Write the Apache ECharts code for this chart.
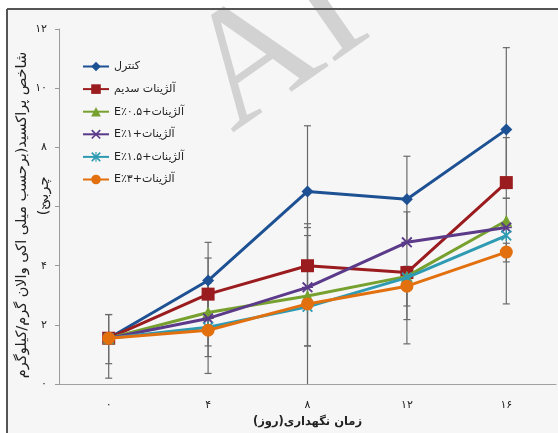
<!DOCTYPE html>
<html>
<head>
<meta charset="utf-8">
<script src="https://cdn.jsdelivr.net/npm/echarts@6/dist/echarts.min.js"></script>
<style>
html,body{margin:0;padding:0;background:#fff;}
#chart{width:558px;height:433px;}
</style>
</head>
<body>
<div id="chart"></div>
<script>
// Storage days (category axis) and value-axis tick labels, in Persian digits
const days = ['۰', '۴', '۸', '۱۲', '۱۶'];
const yTickLabels = ['۰', '۲', '۴', '۶', '۸', '۱۰', '۱۲'];

// Treatment names
const seriesNames = [
  'کنترل',
  'آلژینات سدیم',
  'آلژینات+۰.۵٪E',
  'آلژینات+۱٪E',
  'آلژینات+۱.۵٪E',
  'آلژینات+۳٪E'
];

// Peroxide value per storage day
const controlValues = [1.55, 3.50, 6.51, 6.25, 8.60];
const alginateValues = [1.55, 3.04, 4.00, 3.77, 6.81];
const e05Values = [1.55, 2.42, 2.98, 3.64, 5.52];
const e1Values = [1.55, 2.22, 3.27, 4.79, 5.29];
const e15Values = [1.55, 1.92, 2.61, 3.60, 5.02];
const e3Values = [1.55, 1.82, 2.71, 3.31, 4.46];

// Error bars per day: [minus, plus]
const controlErr = [[0.86, 0.80], [1.30, 1.29], [2.50, 2.22], [1.45, 1.45], [2.32, 2.77]];
const alginateErr = [[1.35, 0.80], [1.20, 1.22], [1.29, 1.42], [0, 0], [0.20, 1.52]];
const e05Err = [[0, 0], [1.13, 1.10], [1.69, 2.04], [1.46, 0.30], [1.39, 0.76]];
const e1Err = [[0, 0], [1.29, 1.20], [1.98, 2.02], [1.03, 1.03], [0, 0]];
const e15Err = [[0, 0], [0, 0], [2.70, 0.30], [2.24, 0.30], [0, 0]];
const e3Err = [[0, 0], [1.46, 1.40], [0, 0], [0.67, 0.67], [1.75, 0.30]];

const colors = ['#1d5193', '#9b1c1f', '#76a12f', '#5b3a8a', '#2f9bb3', '#e2700f'];

// Filled path shapes for the cross / asterisk markers
const crossPath = 'path://M0,1.2 L1.2,0 L10,8.8 L8.8,10 Z M8.8,0 L10,1.2 L1.2,10 L0,8.8 Z M0,4.4 L10,4.4 L10,5.6 L0,5.6 Z';
const starPath = 'path://M0,1.2 L1.2,0 L10,8.8 L8.8,10 Z M8.8,0 L10,1.2 L1.2,10 L0,8.8 Z M4.4,0 L5.6,0 L5.6,10 L4.4,10 Z';

const valueSets = [controlValues, alginateValues, e05Values, e1Values, e15Values, e3Values];
const errSets = [controlErr, alginateErr, e05Err, e1Err, e15Err, e3Err];
const symbols = ['diamond', 'rect', 'triangle', crossPath, starPath, 'circle'];
const symbolSizes = [12, 13, 12, 11, 11, 13];

const FONT = 'DejaVu Sans';
const rtl = s => '\u202B' + s + '\u202C';

function errorBarItem(params, api) {
  const minus = api.value(2), plus = api.value(3);
  if (minus === 0 && plus === 0) return null;
  const i = api.value(0), v = api.value(1);
  const top = api.coord([i, v + plus]);
  const bot = api.coord([i, v - minus]);
  const cap = 3.5;
  const st = { stroke: '#6a6a6a', lineWidth: 1.2 };
  const kids = [{ type: 'line', shape: { x1: top[0], y1: top[1], x2: bot[0], y2: bot[1] }, style: st }];
  if (plus > 0) kids.push({ type: 'line', shape: { x1: top[0] - cap, y1: top[1], x2: top[0] + cap, y2: top[1] }, style: st });
  if (minus > 0) kids.push({ type: 'line', shape: { x1: bot[0] - cap, y1: bot[1], x2: bot[0] + cap, y2: bot[1] }, style: st });
  return { type: 'group', children: kids };
}

const series = [];
valueSets.forEach((vals, k) => {
  series.push({
    type: 'custom',
    name: 'err' + k,
    renderItem: errorBarItem,
    clip: true,
    z: 1,
    encode: { x: 0, y: 1 },
    data: vals.map((v, i) => [i, v, errSets[k][i][0], errSets[k][i][1]]),
    silent: true
  });
});
valueSets.forEach((vals, k) => {
  series.push({
    type: 'line',
    name: rtl(seriesNames[k]),
    data: vals,
    symbol: symbols[k],
    symbolSize: symbolSizes[k],
    symbolKeepAspect: true,
    lineStyle: { width: 3, color: colors[k] },
    itemStyle: { color: colors[k] },
    z: 3 + k * 0.01,
    animation: false
  });
});

const chart = echarts.init(document.getElementById('chart'), null, { renderer: 'canvas' });
chart.setOption({
  animation: false,
  backgroundColor: '#ffffff',
  color: colors,
  textStyle: { fontFamily: FONT },
  grid: { left: 59, right: 2, top: 29, bottom: 41 },
  legend: {
    data: seriesNames.map(rtl),
    orient: 'vertical',
    left: 77,
    top: 56,
    itemWidth: 26,
    itemHeight: 12,
    itemGap: 11.6,
    textStyle: { fontFamily: FONT, fontSize: 11, color: '#222' }
  },
  xAxis: {
    type: 'category',
    data: days,
    boundaryGap: true,
    axisLine: { lineStyle: { color: '#a0a0a0', width: 1 } },
    axisTick: { show: false },
    axisLabel: { color: '#222', fontFamily: FONT, fontSize: 11, margin: 16 },
    name: rtl('زمان نگهداری(روز)'),
    nameLocation: 'middle',
    nameGap: 30,
    nameTextStyle: { color: '#222', fontFamily: FONT, fontSize: 11.5, fontWeight: 'bold' }
  },
  yAxis: {
    type: 'value',
    min: 0,
    max: 12,
    interval: 2,
    splitLine: { show: false },
    axisLine: { show: true, lineStyle: { color: '#9a9a9a', width: 1 } },
    axisTick: { show: true, length: 4, lineStyle: { color: '#9a9a9a' } },
    axisLabel: {
      color: '#222', fontFamily: FONT, fontSize: 11, margin: 12,
      formatter: v => yTickLabels[Math.round(v / 2)]
    }
  },
  graphic: [
    { type: 'rect', z: -10, silent: true, shape: { x: 7, y: 9, width: 551, height: 424 }, style: { fill: '#f6f6f6' } },
    {
      type: 'text', z: -9, silent: true, x: 160, y: 30, rotation: 0.61,
      style: { text: 'AI', font: '165px "Liberation Serif"', fill: '#d2d2d2', align: 'left', verticalAlign: 'top' }
    },
    { type: 'line', z: -8, silent: true, shape: { x1: 7, y1: 9, x2: 558, y2: 9 }, style: { stroke: '#555', lineWidth: 2 } },
    { type: 'line', z: -8, silent: true, shape: { x1: 7, y1: 9, x2: 7, y2: 433 }, style: { stroke: '#555', lineWidth: 2 } },
    {
      type: 'text', silent: true, x: 22, y: 215, rotation: Math.PI / 2,
      style: { text: rtl('شاخص پراکسید(برحسب میلی اکی والان گرم/کیلوگرم'), font: '14.5px "DejaVu Sans"', fill: '#222', align: 'center', verticalAlign: 'middle' }
    },
    {
      type: 'text', silent: true, x: 44, y: 196, rotation: Math.PI / 2,
      style: { text: rtl('چربی)'), font: '14.5px "DejaVu Sans"', fill: '#222', align: 'center', verticalAlign: 'middle' }
    }
  ],
  series: series
});
</script>
</body>
</html>
